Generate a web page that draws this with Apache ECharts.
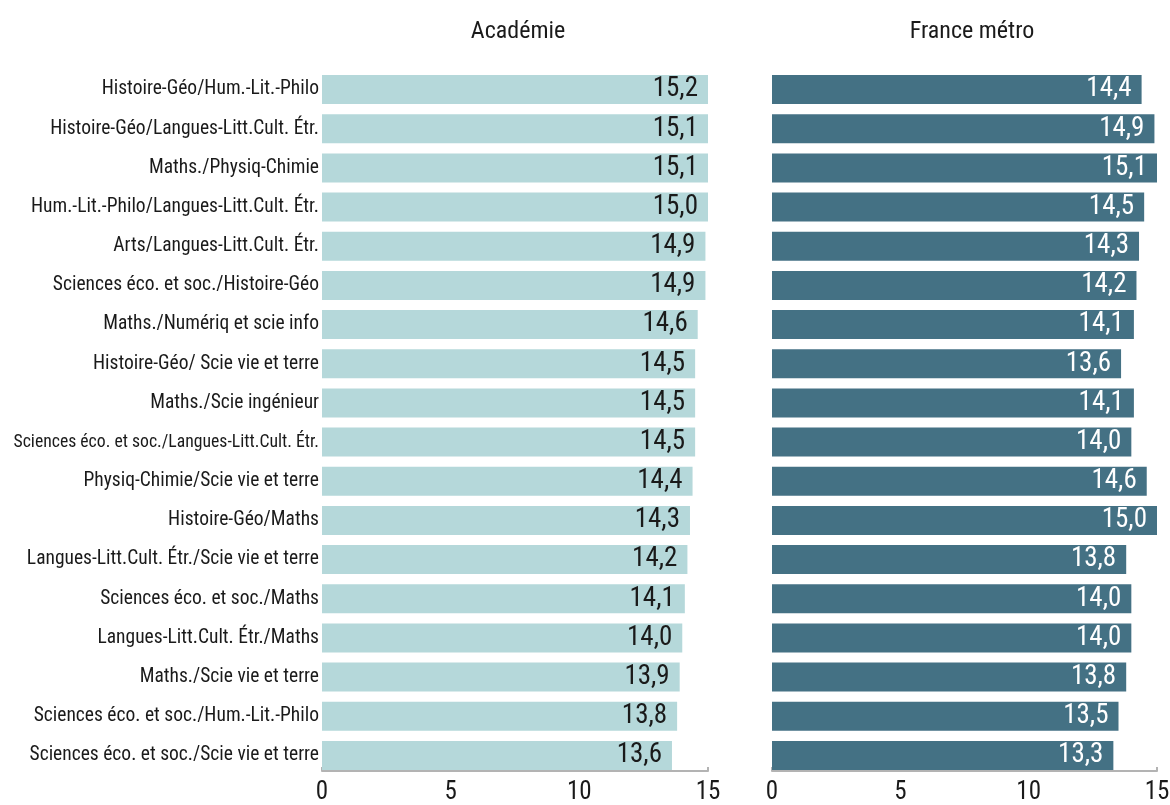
<!DOCTYPE html>
<html>
<head>
<meta charset="utf-8">
<script src="https://cdn.jsdelivr.net/npm/echarts@6/dist/echarts.min.js"></script>
<style>
html, body { margin: 0; padding: 0; background: #fff; }
#chart { width: 1170px; height: 805px; }
</style>
</head>
<body>
<div id="chart"></div>
<script>
// categories, top to bottom
var categories = [
    'Histoire-Géo/Hum.-Lit.-Philo',
    'Histoire-Géo/Langues-Litt.Cult. Étr.',
    'Maths./Physiq-Chimie',
    'Hum.-Lit.-Philo/Langues-Litt.Cult. Étr.',
    'Arts/Langues-Litt.Cult. Étr.',
    'Sciences éco. et soc./Histoire-Géo',
    'Maths./Numériq et scie info',
    'Histoire-Géo/ Scie vie et terre',
    'Maths./Scie ingénieur',
    'Sciences éco. et soc./Langues-Litt.Cult. Étr.',
    'Physiq-Chimie/Scie vie et terre',
    'Histoire-Géo/Maths',
    'Langues-Litt.Cult. Étr./Scie vie et terre',
    'Sciences éco. et soc./Maths',
    'Langues-Litt.Cult. Étr./Maths',
    'Maths./Scie vie et terre',
    'Sciences éco. et soc./Hum.-Lit.-Philo',
    'Sciences éco. et soc./Scie vie et terre'
];
var academie = [15.2, 15.1, 15.1, 15.0, 14.9, 14.9, 14.6, 14.5, 14.5, 14.5, 14.4, 14.3, 14.2, 14.1, 14.0, 13.9, 13.8, 13.6];
var france = [14.4, 14.9, 15.1, 14.5, 14.3, 14.2, 14.1, 13.6, 14.1, 14.0, 14.6, 15.0, 13.8, 14.0, 14.0, 13.8, 13.5, 13.3];
var titles = ['Académie', 'France métro'];

var FONT = '"Roboto Condensed", "DejaVu Sans Condensed", sans-serif';

function fmt(p) {
    return p.value.toFixed(1).replace('.', ',');
}

// the very long label is set tighter, as in the original
function catLabel(v) {
    return v.length > 42 ? '{s|' + v + '}' : v;
}

function xAxisFor(idx) {
    return {
        gridIndex: idx,
        type: 'value',
        min: 0,
        max: 15,
        interval: 5,
        offset: -4,
        splitLine: { show: false },
        axisLine: { show: true, lineStyle: { color: '#b3b3b3', width: 2 } },
        axisTick: { show: true, inside: true, length: 4, lineStyle: { color: '#b3b3b3', width: 2 } },
        axisLabel: { color: '#1a1a1a', fontSize: 25, fontFamily: FONT, margin: 9 }
    };
}

var chart = echarts.init(document.getElementById('chart'));
chart.setOption({
    animation: false,
    title: [
        { text: titles[0], left: 513, top: 15, textAlign: 'center',
          textStyle: { fontSize: 24, fontWeight: 'normal', color: '#1a1a1a', fontFamily: FONT } },
        { text: titles[1], left: 967, top: 15, textAlign: 'center',
          textStyle: { fontSize: 24, fontWeight: 'normal', color: '#1a1a1a', fontFamily: FONT } }
    ],
    grid: [
        { left: 322, width: 386, top: 70, height: 705, outerBoundsMode: 'none', containLabel: false },
        { left: 772, width: 385, top: 70, height: 705, outerBoundsMode: 'none', containLabel: false }
    ],
    xAxis: [xAxisFor(0), xAxisFor(1)],
    yAxis: [
        {
            gridIndex: 0,
            type: 'category',
            inverse: true,
            data: categories,
            axisLine: { show: false },
            axisTick: { show: false },
            axisLabel: {
                color: '#1a1a1a', fontSize: 19.5, fontFamily: FONT, margin: 3,
                formatter: catLabel,
                rich: { s: { fontSize: 17.7, color: '#1a1a1a', fontFamily: FONT } }
            }
        },
        {
            gridIndex: 1,
            type: 'category',
            inverse: true,
            data: categories,
            axisLine: { show: false },
            axisTick: { show: false },
            axisLabel: { show: false }
        }
    ],
    series: [
        {
            name: titles[0],
            type: 'bar',
            xAxisIndex: 0,
            yAxisIndex: 0,
            barWidth: 29,
            data: academie,
            itemStyle: { color: '#b5d8da' },
            label: {
                show: true,
                position: 'insideRight',
                distance: 10,
                formatter: fmt,
                color: '#1a1a1a',
                fontSize: 27,
                fontFamily: FONT
            }
        },
        {
            name: titles[1],
            type: 'bar',
            xAxisIndex: 1,
            yAxisIndex: 1,
            barWidth: 29,
            data: france,
            itemStyle: { color: '#447184' },
            label: {
                show: true,
                position: 'insideRight',
                distance: 10,
                formatter: fmt,
                color: '#ffffff',
                fontSize: 27,
                fontFamily: FONT
            }
        }
    ]
});
</script>
</body>
</html>
